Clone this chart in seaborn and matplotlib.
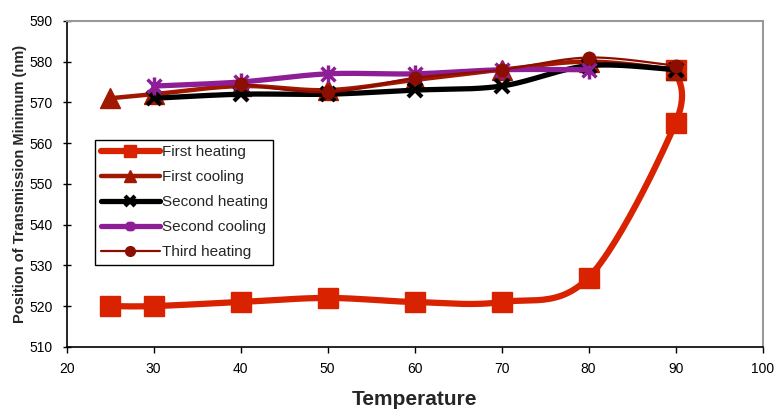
import numpy as np
import pandas as pd
import seaborn as sns
import matplotlib.pyplot as plt
from matplotlib.path import Path
from matplotlib.lines import Line2D

# data
heat1_x = [25, 30, 40, 50, 60, 70, 80, 90, 90]
heat1_y = [520, 520, 521, 522, 521, 521, 527, 565, 578]
cool1_x = [25, 30, 40, 50, 60, 70, 80, 90]
cool1_y = [571, 572, 574, 573, 575.5, 578, 580, 578]
heat2_x = [30, 40, 50, 60, 70, 80, 90]
heat2_y = [571, 572, 572, 573, 574, 579, 578]
cool2_x = [30, 40, 50, 60, 70, 80]
cool2_y = [574, 575, 577, 577, 578, 578]
heat3_x = [40, 50, 60, 70, 80, 90]
heat3_y = [574.5, 572.5, 576, 578, 581, 579]

x_ticks = list(range(20, 101, 10))
y_ticks = list(range(510, 591, 10))

# asterisk marker like the spreadsheet one (X plus a vertical bar)
star = Path([(-1, -1), (1, 1), (-1, 1), (1, -1), (0, -1.3), (0, 1.3)],
            [Path.MOVETO, Path.LINETO, Path.MOVETO, Path.LINETO, Path.MOVETO, Path.LINETO])


def smooth(xs, ys, n=30):
    # Catmull-Rom curve, computed in roughly pixel-sized units
    sx, sy = 8.7, 4.07
    p = np.column_stack([np.array(xs) * sx, np.array(ys) * sy])
    p = np.vstack([p[0], p, p[-1]])
    out = []
    for i in range(1, len(p) - 2):
        p0, p1, p2, p3 = p[i - 1], p[i], p[i + 1], p[i + 2]
        t = np.linspace(0, 1, n)[:, None]
        seg = 0.5 * ((2 * p1) + (-p0 + p2) * t + (2 * p0 - 5 * p1 + 4 * p2 - p3) * t ** 2
                     + (-p0 + 3 * p1 - 3 * p2 + p3) * t ** 3)
        out.append(seg)
    out = np.vstack(out)
    return pd.DataFrame({'x': out[:, 0] / sx, 'y': out[:, 1] / sy})


series = [
    ('First heating', heat1_x, heat1_y, '#D82200', 4.5, 's', 15, 1, 9),
    ('First cooling', cool1_x, cool1_y, '#A01800', 3.2, '^', 14, 1, 9),
    ('Second heating', heat2_x, heat2_y, '#000000', 3.8, 'x', 10, 3, 7),
    ('Second cooling', cool2_x, cool2_y, '#8E1E96', 3.8, star, 13, 2.5, 7),
    ('Third heating', heat3_x, heat3_y, '#8C0E00', 1.6, 'o', 9, 1, 7),
]

sns.set_theme(style='white')
plt.rcParams['font.family'] = ['Liberation Sans', 'DejaVu Sans']

fig = plt.figure(figsize=(7.75, 4.09), dpi=100)
ax = fig.add_axes([0.086, 0.152, 0.898, 0.797])

handles = []
for name, xs, ys, col, lw, mk, ms, mew, lms in series:
    curve = smooth(xs, ys)
    sns.lineplot(data=curve, x='x', y='y', sort=False, estimator=None, color=col, linewidth=lw, ax=ax)
    ax.plot(xs, ys, linestyle='none', marker=mk, markersize=ms, color=col,
            markeredgecolor=col, markeredgewidth=mew)
    handles.append(Line2D([], [], color=col, linewidth=lw, marker=mk, markersize=lms,
                          markeredgecolor=col, markeredgewidth=mew, label=name))

ax.set_xlim(20, 100)
ax.set_ylim(510, 590)
ax.set_xticks(x_ticks)
ax.set_yticks(y_ticks)
ax.tick_params(axis='both', labelsize=10, colors='black', length=4, width=1)
ax.tick_params(axis='x', direction='out', bottom=True, pad=7)
ax.tick_params(axis='y', direction='inout', left=True, length=6, pad=7)
ax.set_xlabel('Temperature', fontsize=15, fontweight='bold', labelpad=10)
ax.set_ylabel('Position of Transmission Minimum (nm)', fontsize=10.5, fontweight='bold', labelpad=2)

for side in ['left', 'bottom']:
    ax.spines[side].set_color('black')
    ax.spines[side].set_linewidth(1.2)
for side in ['top', 'right']:
    ax.spines[side].set_color('#999999')
    ax.spines[side].set_linewidth(1.5)

leg = ax.legend(handles=handles, loc='upper left', bbox_to_anchor=(0.041, 0.635),
                borderaxespad=0, fontsize=11, handlelength=3.9, handletextpad=0.1,
                labelspacing=0.72, fancybox=False, framealpha=1, borderpad=0.35)
leg.get_frame().set_edgecolor('black')
leg.get_frame().set_linewidth(1)

fig.savefig('out.png', dpi=100)
